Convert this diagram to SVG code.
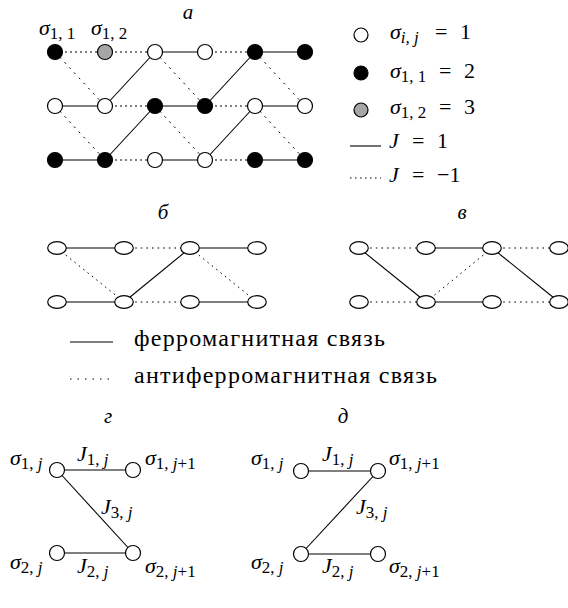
<svg xmlns="http://www.w3.org/2000/svg" width="568" height="608" viewBox="0 0 568 608">
<style>
.t{font-family:'Liberation Serif','Times New Roman',serif;font-size:22px;fill:#000}
.it{font-style:italic}
.sub{font-size:17px}
.up{font-style:normal}
.lab{font-style:italic;font-size:21px}
.ru{font-size:24px}
.s{stroke:#000;stroke-width:1.1;fill:none}
.d{stroke:#000;stroke-width:1;stroke-dasharray:2,3}
.dd{stroke:#000;stroke-width:1;stroke-dasharray:2,5}
.d2{stroke:#000;stroke-width:1;stroke-dasharray:1.6,4}
.nw{fill:#fff;stroke:#000;stroke-width:1.2}
.nb{fill:#000;stroke:#000;stroke-width:1.2}
.ng{fill:#a6a6a6;stroke:#000;stroke-width:1.2}
</style>

<!-- Panel a -->
<g id="conn-a">
<line class="d" x1="55" y1="52" x2="105" y2="52"/>
<line class="d" x1="105" y1="52" x2="155" y2="52"/>
<line class="s" x1="155" y1="52" x2="205" y2="52"/>
<line class="d" x1="205" y1="52" x2="255" y2="52"/>
<line class="s" x1="255" y1="52" x2="305" y2="52"/>
<line class="s" x1="55" y1="106" x2="105" y2="106"/>
<line class="d" x1="105" y1="106" x2="155" y2="106"/>
<line class="s" x1="155" y1="106" x2="205" y2="106"/>
<line class="d" x1="205" y1="106" x2="255" y2="106"/>
<line class="s" x1="255" y1="106" x2="305" y2="106"/>
<line class="s" x1="55" y1="160" x2="105" y2="160"/>
<line class="d" x1="105" y1="160" x2="155" y2="160"/>
<line class="s" x1="155" y1="160" x2="205" y2="160"/>
<line class="d" x1="205" y1="160" x2="255" y2="160"/>
<line class="s" x1="255" y1="160" x2="305" y2="160"/>
<line class="dd" x1="55" y1="52" x2="105" y2="106"/>
<line class="s" x1="155" y1="52" x2="105" y2="106"/>
<line class="dd" x1="155" y1="52" x2="205" y2="106"/>
<line class="s" x1="255" y1="52" x2="205" y2="106"/>
<line class="dd" x1="255" y1="52" x2="305" y2="106"/>
<line class="dd" x1="55" y1="106" x2="105" y2="160"/>
<line class="s" x1="155" y1="106" x2="105" y2="160"/>
<line class="dd" x1="155" y1="106" x2="205" y2="160"/>
<line class="s" x1="255" y1="106" x2="205" y2="160"/>
<line class="dd" x1="255" y1="106" x2="305" y2="160"/>
</g>
<g id="nodes-a">
<g id="a11"><circle class="nb" cx="55" cy="52" r="7.5"/></g>
<g id="a12"><circle class="ng" cx="105" cy="52" r="7.5"/></g>
<g id="a13"><circle class="nw" cx="155" cy="52" r="7.5"/></g>
<g id="a14"><circle class="nw" cx="205" cy="52" r="7.5"/></g>
<g id="a15"><circle class="nb" cx="255" cy="52" r="7.5"/></g>
<g id="a16"><circle class="nb" cx="305" cy="52" r="7.5"/></g>
<g id="a21"><circle class="nw" cx="55" cy="106" r="7.5"/></g>
<g id="a22"><circle class="nw" cx="105" cy="106" r="7.5"/></g>
<g id="a23"><circle class="nb" cx="155" cy="106" r="7.5"/></g>
<g id="a24"><circle class="nb" cx="205" cy="106" r="7.5"/></g>
<g id="a25"><circle class="nw" cx="255" cy="106" r="7.5"/></g>
<g id="a26"><circle class="nw" cx="305" cy="106" r="7.5"/></g>
<g id="a31"><circle class="nb" cx="55" cy="160" r="7.5"/></g>
<g id="a32"><circle class="nb" cx="105" cy="160" r="7.5"/></g>
<g id="a33"><circle class="nw" cx="155" cy="160" r="7.5"/></g>
<g id="a34"><circle class="nw" cx="205" cy="160" r="7.5"/></g>
<g id="a35"><circle class="nb" cx="255" cy="160" r="7.5"/></g>
<g id="a36"><circle class="nb" cx="305" cy="160" r="7.5"/></g>
</g>

<!-- Panel б -->
<g id="conn-b">
<line class="s" x1="57" y1="248" x2="124" y2="248"/>
<line class="d2" x1="124" y1="248" x2="190" y2="248"/>
<line class="s" x1="190" y1="248" x2="257" y2="248"/>
<line class="s" x1="57" y1="302" x2="124" y2="302"/>
<line class="d2" x1="124" y1="302" x2="190" y2="302"/>
<line class="s" x1="190" y1="302" x2="257" y2="302"/>
<line class="d2" x1="57" y1="248" x2="124" y2="302"/>
<line class="s" x1="190" y1="248" x2="124" y2="302"/>
<line class="d2" x1="190" y1="248" x2="257" y2="302"/>
</g>
<g id="nodes-b">
<g id="b11"><ellipse class="nw" cx="57" cy="248" rx="9.3" ry="6.3"/></g>
<g id="b12"><ellipse class="nw" cx="124" cy="248" rx="9.3" ry="6.3"/></g>
<g id="b13"><ellipse class="nw" cx="190" cy="248" rx="9.3" ry="6.3"/></g>
<g id="b14"><ellipse class="nw" cx="257" cy="248" rx="9.3" ry="6.3"/></g>
<g id="b21"><ellipse class="nw" cx="57" cy="302" rx="9.3" ry="6.3"/></g>
<g id="b22"><ellipse class="nw" cx="124" cy="302" rx="9.3" ry="6.3"/></g>
<g id="b23"><ellipse class="nw" cx="190" cy="302" rx="9.3" ry="6.3"/></g>
<g id="b24"><ellipse class="nw" cx="257" cy="302" rx="9.3" ry="6.3"/></g>
</g>

<!-- Panel в -->
<g id="conn-v">
<line class="d2" x1="359" y1="248" x2="426" y2="248"/>
<line class="s" x1="426" y1="248" x2="492" y2="248"/>
<line class="d2" x1="492" y1="248" x2="559" y2="248"/>
<line class="d2" x1="359" y1="302" x2="426" y2="302"/>
<line class="s" x1="426" y1="302" x2="492" y2="302"/>
<line class="d2" x1="492" y1="302" x2="559" y2="302"/>
<line class="s" x1="359" y1="248" x2="426" y2="302"/>
<line class="d2" x1="492" y1="248" x2="426" y2="302"/>
<line class="s" x1="492" y1="248" x2="559" y2="302"/>
</g>
<g id="nodes-v">
<g id="v11"><ellipse class="nw" cx="359" cy="248" rx="9.3" ry="6.3"/></g>
<g id="v12"><ellipse class="nw" cx="426" cy="248" rx="9.3" ry="6.3"/></g>
<g id="v13"><ellipse class="nw" cx="492" cy="248" rx="9.3" ry="6.3"/></g>
<g id="v14"><ellipse class="nw" cx="559" cy="248" rx="9.3" ry="6.3"/></g>
<g id="v21"><ellipse class="nw" cx="359" cy="302" rx="9.3" ry="6.3"/></g>
<g id="v22"><ellipse class="nw" cx="426" cy="302" rx="9.3" ry="6.3"/></g>
<g id="v23"><ellipse class="nw" cx="492" cy="302" rx="9.3" ry="6.3"/></g>
<g id="v24"><ellipse class="nw" cx="559" cy="302" rx="9.3" ry="6.3"/></g>
</g>

<!-- Panel г -->
<g id="conn-g">
<line class="s" x1="57" y1="470" x2="133" y2="470"/>
<line class="s" x1="57" y1="553" x2="133" y2="553"/>
<line class="s" x1="57" y1="470" x2="133" y2="553"/>
</g>
<g id="g11"><circle class="nw" cx="57" cy="470" r="7.5"/></g>
<g id="g12"><circle class="nw" cx="133" cy="470" r="7.5"/></g>
<g id="g21"><circle class="nw" cx="57" cy="553" r="7.5"/></g>
<g id="g22"><circle class="nw" cx="133" cy="553" r="7.5"/></g>

<!-- Panel д -->
<g id="conn-d">
<line class="s" x1="301" y1="471" x2="378" y2="471"/>
<line class="s" x1="301" y1="554" x2="378" y2="554"/>
<line class="s" x1="378" y1="471" x2="301" y2="554"/>
</g>
<g id="d11"><circle class="nw" cx="301" cy="471" r="7.5"/></g>
<g id="d12"><circle class="nw" cx="378" cy="471" r="7.5"/></g>
<g id="d21"><circle class="nw" cx="301" cy="554" r="7.5"/></g>
<g id="d22"><circle class="nw" cx="378" cy="554" r="7.5"/></g>

<!-- Legends (graphics) -->
<g id="legend-a-marks">
<circle class="nw" cx="361" cy="35" r="7"/>
<circle class="nb" cx="361" cy="73" r="7"/>
<circle class="ng" cx="361" cy="110" r="7"/>
<line class="s" x1="350" y1="146" x2="381" y2="146"/>
<line class="s" style="stroke-dasharray:1.5,3.5" x1="350" y1="178" x2="381" y2="178"/>
</g>
<g id="legend-bond-marks">
<line class="s" x1="70" y1="342" x2="113" y2="342"/>
<line class="s" style="stroke-dasharray:1.5,6" x1="70" y1="379" x2="113" y2="379"/>
</g>

<!-- All text -->
<g id="texts" font-family="Liberation Serif, Times New Roman, serif" font-size="22" fill="#000">
<text class="t lab" font-size="21" font-style="italic" x="188" y="19" text-anchor="middle">a</text>
<text class="t it" font-style="italic" x="39" y="35">σ<tspan class="sub up" font-size="17" font-style="normal" dy="4">1, 1</tspan></text>
<text class="t it" font-style="italic" x="91" y="35">σ<tspan class="sub up" font-size="17" font-style="normal" dy="4">1, 2</tspan></text>

<text class="t it" font-style="italic" x="390" y="39">σ<tspan class="sub" font-size="17" dy="4">i, j</tspan><tspan class="up" font-style="normal" x="435" dy="-4">=</tspan><tspan class="up" font-style="normal" x="460">1</tspan></text>
<text class="t it" font-style="italic" x="390" y="78">σ<tspan class="sub up" font-size="17" font-style="normal" dy="4">1, 1</tspan><tspan class="up" font-style="normal" x="439" dy="-4">=</tspan><tspan class="up" font-style="normal" x="464">2</tspan></text>
<text class="t it" font-style="italic" x="390" y="114">σ<tspan class="sub up" font-size="17" font-style="normal" dy="4">1, 2</tspan><tspan class="up" font-style="normal" x="439" dy="-4">=</tspan><tspan class="up" font-style="normal" x="464">3</tspan></text>
<text class="t it" font-style="italic" x="389" y="148">J<tspan class="up" font-style="normal" x="412">=</tspan><tspan class="up" font-style="normal" x="437">1</tspan></text>
<text class="t it" font-style="italic" x="389" y="182">J<tspan class="up" font-style="normal" x="412">=</tspan><tspan class="up" font-style="normal" x="437">−1</tspan></text>

<text class="t lab" font-size="21" font-style="italic" x="163" y="219" text-anchor="middle">б</text>
<text class="t lab" font-size="21" font-style="italic" x="462" y="219" text-anchor="middle">в</text>

<text class="t ru" font-size="24" x="134" y="346" textLength="251" lengthAdjust="spacing">ферромагнитная связь</text>
<text class="t ru" font-size="24" x="134" y="383" textLength="303" lengthAdjust="spacing">антиферромагнитная связь</text>

<text class="t lab" font-size="21" font-style="italic" x="108" y="423" text-anchor="middle">г</text>
<text class="t it" font-style="italic" x="10" y="465">σ<tspan class="sub" font-size="17" dy="4"><tspan class="up" font-style="normal">1,</tspan> j</tspan></text>
<text class="t it" font-style="italic" x="77" y="461">J<tspan class="sub" font-size="17" dy="4"><tspan class="up" font-style="normal">1,</tspan> j</tspan></text>
<text class="t it" font-style="italic" x="145" y="465">σ<tspan class="sub" font-size="17" dy="4"><tspan class="up" font-style="normal">1,</tspan> j<tspan class="up" font-style="normal">+1</tspan></tspan></text>
<text class="t it" font-style="italic" x="101" y="514">J<tspan class="sub" font-size="17" dy="4"><tspan class="up" font-style="normal">3,</tspan> j</tspan></text>
<text class="t it" font-style="italic" x="10" y="569">σ<tspan class="sub" font-size="17" dy="4"><tspan class="up" font-style="normal">2,</tspan> j</tspan></text>
<text class="t it" font-style="italic" x="77" y="573">J<tspan class="sub" font-size="17" dy="4"><tspan class="up" font-style="normal">2,</tspan> j</tspan></text>
<text class="t it" font-style="italic" x="145" y="573">σ<tspan class="sub" font-size="17" dy="4"><tspan class="up" font-style="normal">2,</tspan> j<tspan class="up" font-style="normal">+1</tspan></tspan></text>

<text class="t lab" font-size="21" font-style="italic" x="343" y="423" text-anchor="middle">д</text>
<text class="t it" font-style="italic" x="251" y="465">σ<tspan class="sub" font-size="17" dy="4"><tspan class="up" font-style="normal">1,</tspan> j</tspan></text>
<text class="t it" font-style="italic" x="322" y="461">J<tspan class="sub" font-size="17" dy="4"><tspan class="up" font-style="normal">1,</tspan> j</tspan></text>
<text class="t it" font-style="italic" x="389" y="465">σ<tspan class="sub" font-size="17" dy="4"><tspan class="up" font-style="normal">1,</tspan> j<tspan class="up" font-style="normal">+1</tspan></tspan></text>
<text class="t it" font-style="italic" x="356" y="514">J<tspan class="sub" font-size="17" dy="4"><tspan class="up" font-style="normal">3,</tspan> j</tspan></text>
<text class="t it" font-style="italic" x="251" y="569">σ<tspan class="sub" font-size="17" dy="4"><tspan class="up" font-style="normal">2,</tspan> j</tspan></text>
<text class="t it" font-style="italic" x="322" y="573">J<tspan class="sub" font-size="17" dy="4"><tspan class="up" font-style="normal">2,</tspan> j</tspan></text>
<text class="t it" font-style="italic" x="389" y="573">σ<tspan class="sub" font-size="17" dy="4"><tspan class="up" font-style="normal">2,</tspan> j<tspan class="up" font-style="normal">+1</tspan></tspan></text>
</g>
</svg>
